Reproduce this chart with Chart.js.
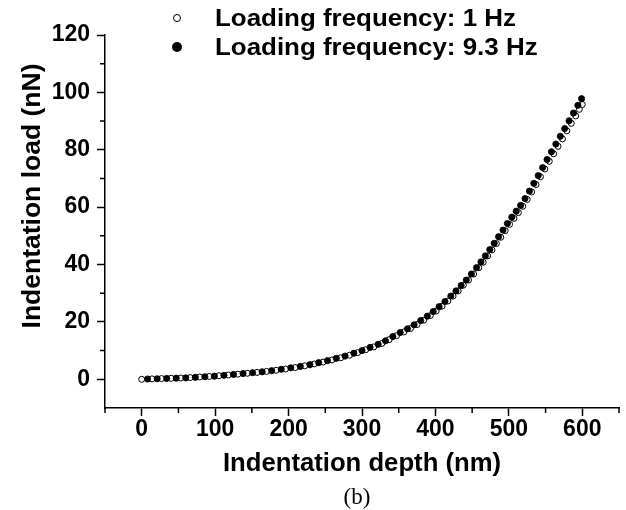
<!DOCTYPE html>
<html>
<head>
<meta charset="utf-8">
<script src="https://cdn.jsdelivr.net/npm/chart.js@4.4.1/dist/chart.umd.min.js"></script>
<style>
  body { margin: 0; background: #fff; }
  #wrap { position: relative; width: 626px; height: 510px; font-family: "Liberation Sans", Arial, sans-serif; }
  canvas { position: absolute; left: 0; top: 0; }
  .leg { position: absolute; left: 215px; font-weight: bold; font-size: 24px; line-height: 24px; white-space: nowrap; color: #000; transform: scaleX(1.08); transform-origin: left center; }
  .mk { position: absolute; border-radius: 50%; box-sizing: border-box; }
  #ytitle { position: absolute; width: 320px; left: -129px; top: 182px; text-align: center; font-weight: bold; font-size: 26.5px; line-height: 28px; transform: rotate(-90deg); white-space: nowrap; }
  #cap { position: absolute; width: 100px; left: 307px; top: 484px; text-align: center; font-family: "Liberation Serif", "Times New Roman", serif; font-size: 23px; line-height: 26px; }
</style>
</head>
<body>
<div id="wrap">
  <canvas id="chart" width="626" height="510"></canvas>
  <div class="mk" style="left:173px; top:14px; width:8px; height:8px; border:1px solid #000; background:#fff;"></div>
  <div class="leg" style="top:6px;">Loading frequency: 1 Hz</div>
  <div class="mk" style="left:172px; top:42px; width:10px; height:10px; background:#000;"></div>
  <div class="leg" style="top:35px;">Loading frequency: 9.3 Hz</div>
  <div id="ytitle">Indentation load (nN)</div>
  <div id="cap">(b)</div>
</div>
<script>
  // 1 Hz (open circles)
  const depth1Hz = [0, 14, 27, 40, 53, 66, 79, 92, 105, 118, 131, 144, 157, 170, 183, 196, 209, 222, 235, 247,
    259, 271, 283, 294, 305, 316, 327, 337, 347, 357, 366, 375, 384, 393, 401, 409, 417, 424, 431, 438,
    445, 452, 459, 465, 471, 477, 483, 489, 495, 501, 507, 513, 519, 525, 531, 537, 543, 549, 555, 561,
    567, 573, 579, 585, 591, 596, 600];
  const load1Hz = [0.0, 0.15, 0.25, 0.35, 0.45, 0.6, 0.8, 1.0, 1.25, 1.5, 1.8, 2.1, 2.4, 2.75, 3.15, 3.6, 4.1, 4.7, 5.35, 6.0,
    6.75, 7.5, 8.4, 9.3, 10.3, 11.3, 12.5, 13.8, 15.2, 16.5, 17.7, 19.1, 20.6, 22.2, 23.8, 25.5, 27.3, 29.0, 30.8, 32.8,
    34.6, 36.7, 38.9, 40.8, 43.0, 45.1, 47.3, 49.5, 51.8, 54.0, 56.1, 58.1, 60.3, 62.7, 65.3, 67.9, 70.6, 73.3, 76.0, 78.6,
    81.2, 83.8, 86.6, 89.2, 91.8, 94.1, 95.8];

  // 9.3 Hz (filled circles)
  const depth93Hz = [8, 21, 34, 47, 60, 73, 86, 99, 112, 125, 138, 151, 164, 177, 190, 203, 216, 229, 241, 253,
    265, 277, 289, 300, 311, 322, 332, 342, 352, 362, 371, 380, 389, 397, 405, 413, 421, 428, 435, 442,
    449, 456, 462, 468, 474, 480, 486, 492, 498, 504, 510, 516, 522, 528, 534, 540, 546, 552, 558, 564,
    570, 576, 582, 588, 594, 599];
  const load93Hz = [0.1, 0.2, 0.3, 0.4, 0.5, 0.7, 0.9, 1.1, 1.4, 1.7, 2.0, 2.3, 2.6, 3.0, 3.5, 4.0, 4.5, 5.1, 5.8, 6.5,
    7.3, 8.1, 9.1, 10.0, 11.1, 12.2, 13.4, 14.9, 16.3, 17.6, 19.0, 20.5, 22.0, 23.6, 25.3, 27.1, 29.0, 30.8, 32.7, 34.6,
    36.7, 38.9, 40.9, 43.0, 45.2, 47.4, 49.7, 52.0, 54.3, 56.5, 58.6, 60.6, 63.0, 65.6, 68.3, 71.0, 73.8, 76.6, 79.3, 82.0,
    84.7, 87.4, 90.1, 92.8, 95.5, 97.8];

  const xTicks = [0, 100, 200, 300, 400, 500, 600];
  const xMinor = [-50, 50, 150, 250, 350, 450, 550, 650];
  const yTicks = [0, 20, 40, 60, 80, 100, 120];
  const yMinor = [10, 30, 50, 70, 90, 110];

  const toPoints = (xs, ys) => xs.map((x, i) => ({ x: x, y: ys[i] }));

  // short minor tick marks, placed through the chart's own scales
  const minorTicks = {
    id: "minorTicks",
    afterDraw(chart) {
      const ctx = chart.ctx;
      const xs = chart.scales.x, ys = chart.scales.y;
      const area = chart.chartArea;
      ctx.save();
      ctx.strokeStyle = "#000";
      ctx.lineWidth = 1.5;
      ctx.beginPath();
      xMinor.forEach(v => {
        const px = xs.getPixelForValue(v);
        ctx.moveTo(px, area.bottom);
        ctx.lineTo(px, area.bottom + 5);
      });
      yMinor.forEach(v => {
        const py = ys.getPixelForValue(v);
        ctx.moveTo(area.left, py);
        ctx.lineTo(area.left - 5, py);
      });
      ctx.stroke();
      ctx.restore();
    }
  };

  const tickFont = { family: "'Liberation Sans', Arial, sans-serif", size: 23, weight: "bold" };

  new Chart(document.getElementById("chart").getContext("2d"), {
    type: "scatter",
    data: {
      datasets: [
        {
          label: "Loading frequency: 9.3 Hz",
          data: toPoints(depth93Hz, load93Hz),
          pointRadius: 3.1,
          pointBackgroundColor: "#000",
          pointBorderColor: "#000",
          pointBorderWidth: 0.8,
          showLine: false,
        },
        {
          label: "Loading frequency: 1 Hz",
          data: toPoints(depth1Hz, load1Hz),
          pointRadius: 3.0,
          pointBackgroundColor: "#fff",
          pointBorderColor: "#000",
          pointBorderWidth: 1,
          showLine: false,
        },
      ],
    },
    options: {
      responsive: false,
      animation: false,
      layout: { padding: { left: 0, right: 7, top: 35, bottom: 0 } },
      plugins: {
        legend: { display: false },
        tooltip: { enabled: false },
      },
      scales: {
        x: {
          type: "linear",
          min: -50,
          max: 650,
          afterBuildTicks: s => { s.ticks = xTicks.map(v => ({ value: v })); },
          afterFit: s => { s.height = 102; },
          grid: { drawOnChartArea: false, drawTicks: true, tickLength: 8, tickColor: "#000", tickWidth: 1.5 },
          border: { display: true, color: "#000", width: 1.5 },
          ticks: { color: "#000", font: tickFont, padding: 0, maxRotation: 0 },
          title: {
            display: true,
            text: "Indentation depth (nm)",
            color: "#000",
            font: { family: "'Liberation Sans', Arial, sans-serif", size: 25.7, weight: "bold" },
            padding: { top: 0, bottom: 31 },
          },
        },
        y: {
          type: "linear",
          min: -10,
          max: 120,
          afterBuildTicks: s => { s.ticks = yTicks.map(v => ({ value: v })); },
          afterFit: s => { s.width = 105; },
          grid: { drawOnChartArea: false, drawTicks: true, tickLength: 8, tickColor: "#000", tickWidth: 1.5 },
          border: { display: true, color: "#000", width: 1.5 },
          ticks: { color: "#000", font: tickFont, padding: 7 },
        },
      },
    },
    plugins: [minorTicks],
  });
</script>
</body>
</html>
